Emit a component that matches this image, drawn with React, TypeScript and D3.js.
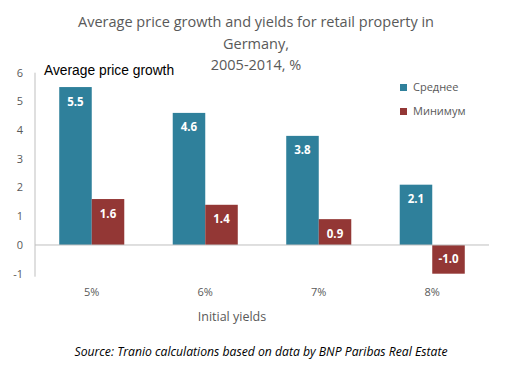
import React from "react";
import * as d3 from "d3";

const categories = ["5%", "6%", "7%", "8%"];
const seriesNames = ["Среднее", "Минимум"];
const averageValues = [5.5, 4.6, 3.8, 2.1];
const minimumValues = [1.6, 1.4, 0.9, -1.0];
const yTicks = [-1, 0, 1, 2, 3, 4, 5, 6];
const titleLines = [
  "Average price growth and yields for retail property in",
  "Germany,",
  "2005-2014, %",
];
const colors = ["#2f809b", "#933735"];

const W = 511;
const H = 367;
const FONT = "'Open Sans', 'DejaVu Sans', sans-serif";

export default function App() {
  const x0 = d3.scaleBand<string>().domain(categories).range([35, 489]).paddingInner(0.427).paddingOuter(0.2135);
  const x1 = d3.scaleBand<string>().domain(seriesNames).range([0, x0.bandwidth()]);
  const y = d3.scaleLinear().domain([-1, 6]).range([273.7, 72.7]);
  const seriesValues = [averageValues, minimumValues];

  return (
    <div style={{ position: "absolute", left: 0, top: 0 }}>
      <svg width={W} height={H} style={{ display: "block", background: "#fff" }}>
        <rect width={W} height={H} fill="#fff" />
        {titleLines.map((t, i) => (
          <text key={i} x={256} y={22 + i * 21.5} dy="0.35em" textAnchor="middle" fontFamily={FONT} fontSize={14.5} fill="#595959">
            {t}
          </text>
        ))}
        {/* y axis */}
        <line x1={35} x2={35} y1={y(6)} y2={y(-1) + 3} stroke="#bfbfbf" />
        {yTicks.map((t) => (
          <text key={t} x={23} y={y(t)} dy="0.35em" textAnchor="end" fontFamily={FONT} fontSize={11} fill="#595959">
            {t}
          </text>
        ))}
        <text x={44} y={70} dy="0.35em" fontFamily="'Liberation Sans', sans-serif" fontSize={13.8} fill="#000">
          Average price growth
        </text>
        {/* bars */}
        {categories.map((c, ci) =>
          seriesNames.map((s, si) => {
            const v = seriesValues[si][ci];
            const bx = (x0(c) ?? 0) + (x1(s) ?? 0);
            const top = y(Math.max(0, v));
            const h = Math.abs(y(v) - y(0));
            const ly = v >= 0 ? y(v) + 14.5 : y(v) - 14.5;
            return (
              <g key={c + s}>
                <rect x={bx} y={top} width={x1.bandwidth()} height={h} fill={colors[si]} />
                <text x={bx + x1.bandwidth() / 2} y={ly} dy="0.35em" textAnchor="middle" fontFamily={FONT} fontWeight="bold" fontSize={11.5} fill="#fff">
                  {v.toFixed(1)}
                </text>
              </g>
            );
          })
        )}
        <line x1={35} x2={489} y1={y(0)} y2={y(0)} stroke="#bfbfbf" />
        {categories.map((c) => (
          <text key={c} x={(x0(c) ?? 0) + x0.bandwidth() / 2} y={292} dy="0.35em" textAnchor="middle" fontFamily={FONT} fontSize={11} fill="#595959">
            {c}
          </text>
        ))}
        <text x={232} y={317} dy="0.35em" textAnchor="middle" fontFamily={FONT} fontSize={12.5} fill="#595959">
          Initial yields
        </text>
        {seriesNames.map((s, i) => (
          <g key={s}>
            <rect x={400} y={84 + i * 24} width={7} height={7} fill={colors[i]} />
            <text x={413} y={87.5 + i * 24} dy="0.35em" fontFamily={FONT} fontSize={11} fill="#595959">
              {s}
            </text>
          </g>
        ))}
        <text x={261} y={352} dy="0.35em" textAnchor="middle" fontFamily={FONT} fontStyle="italic" fontSize={12.2} fill="#000">
          Source: Tranio calculations based on data by BNP Paribas Real Estate
        </text>
      </svg>
    </div>
  );
}
